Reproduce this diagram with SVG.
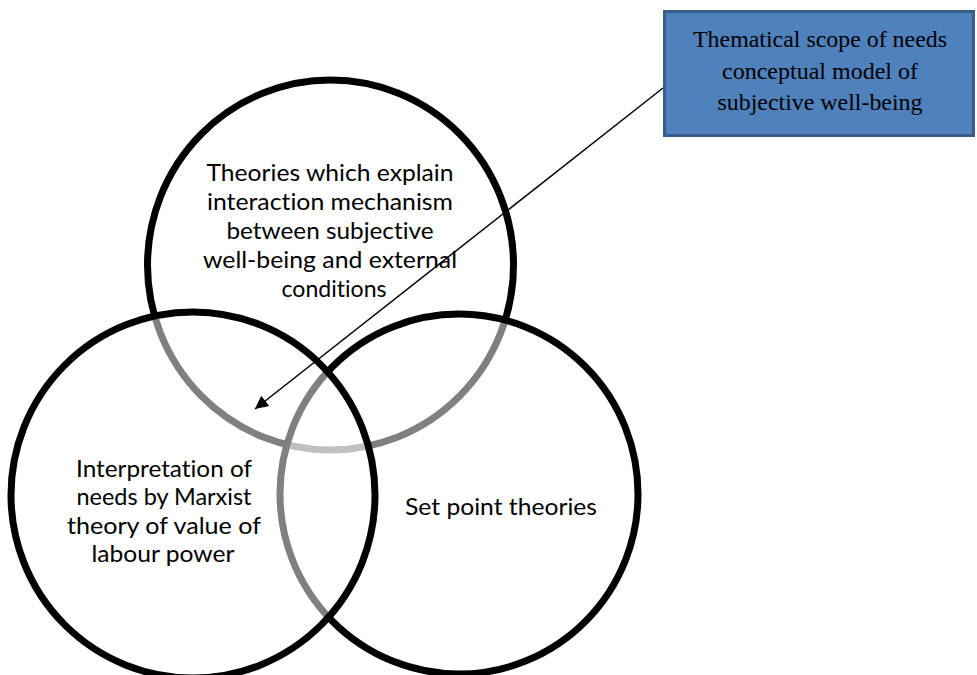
<svg xmlns="http://www.w3.org/2000/svg" width="977" height="675" viewBox="0 0 977 675">
<style>
.c{fill:#ffffff;fill-opacity:0.5;stroke:#000;stroke-width:7}
.t{font-family:Lato,"Open Sans","Liberation Sans",sans-serif;font-size:24px;fill:#000;text-anchor:middle;font-variant-ligatures:none}
.b{font-family:"Liberation Serif","Times New Roman",serif;font-size:22.5px;fill:#000;text-anchor:middle}
</style>
<defs>
<marker id="ah" viewBox="0 0 10 10" refX="10" refY="5" markerWidth="18" markerHeight="13" markerUnits="userSpaceOnUse" orient="auto">
<path d="M0,0 L10,5 L0,10 z" fill="#000"/>
</marker>
</defs>
<rect width="977" height="675" fill="#fff"/>
<g id="top-circle">
<ellipse class="c" cx="330.5" cy="265" rx="183" ry="185"/>
</g>
<g id="right-circle">
<ellipse class="c" cx="459" cy="494" rx="179" ry="180"/>
</g>
<g id="left-circle">
<ellipse class="c" cx="193" cy="495" rx="182" ry="183"/>
</g>
<g id="top-label">
<text class="t" x="330" y="181" textLength="247" lengthAdjust="spacingAndGlyphs">Theories which explain</text>
<text class="t" x="330" y="210" textLength="246" lengthAdjust="spacingAndGlyphs">interaction mechanism</text>
<text class="t" x="330" y="239" textLength="207" lengthAdjust="spacingAndGlyphs">between subjective</text>
<text class="t" x="330" y="268" textLength="254" lengthAdjust="spacingAndGlyphs">well-being and external</text>
<text class="t" x="334" y="297" textLength="105" lengthAdjust="spacingAndGlyphs">conditions</text>
</g>
<g id="left-label">
<text class="t" x="164" y="477" textLength="176" lengthAdjust="spacingAndGlyphs">Interpretation of</text>
<text class="t" x="164" y="505" textLength="175" lengthAdjust="spacingAndGlyphs">needs by Marxist</text>
<text class="t" x="164" y="534" textLength="194" lengthAdjust="spacingAndGlyphs">theory of value of</text>
<text class="t" x="163" y="562" textLength="143" lengthAdjust="spacingAndGlyphs">labour power</text>
</g>
<g id="right-label">
<text class="t" x="501" y="515" textLength="192" lengthAdjust="spacingAndGlyphs">Set point theories</text>
</g>
<g id="connectors">
<line x1="663" y1="88" x2="255" y2="409" stroke="#000" stroke-width="1.5" marker-end="url(#ah)"/>
</g>
<g id="scope-box">
<rect x="664.5" y="11.5" width="309" height="124" fill="#4F81BD" stroke="#385D8A" stroke-width="3"/>
<text class="b" x="820" y="47" textLength="254" lengthAdjust="spacingAndGlyphs">Thematical scope of needs</text>
<text class="b" x="820" y="79" textLength="196" lengthAdjust="spacingAndGlyphs">conceptual model of</text>
<text class="b" x="820" y="110" textLength="205" lengthAdjust="spacingAndGlyphs">subjective well-being</text>
</g>
</svg>
